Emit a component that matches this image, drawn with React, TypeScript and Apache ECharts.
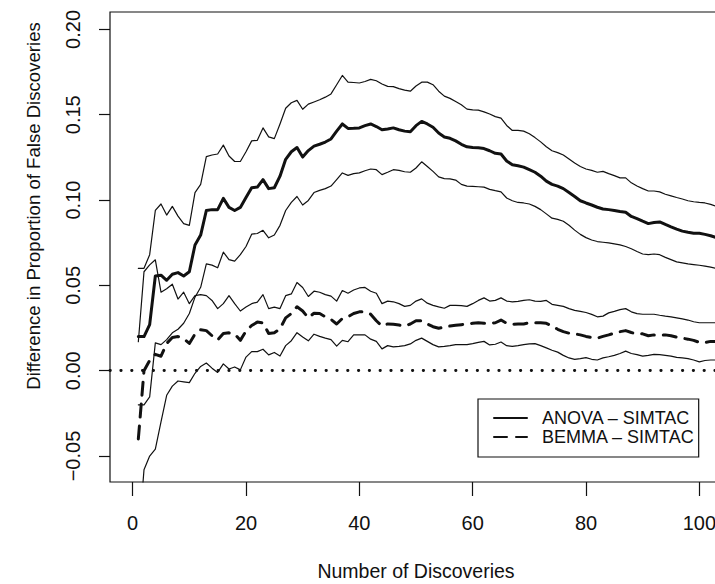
import React, { useEffect, useRef } from "react";
import * as echarts from "echarts";

// Values (x = 1, 2, 3, ... number of discoveries)
const anovaMean = [
  0.020, 0.020, 0.027, 0.0555, 0.056, 0.053, 0.0565, 0.0575, 0.0555, 0.058,
  0.0737, 0.0795, 0.0939, 0.0944, 0.0944, 0.101, 0.0957, 0.0939, 0.0957, 0.1015,
  0.1072, 0.1076, 0.112, 0.1067, 0.1072, 0.114, 0.1239, 0.1283, 0.1308, 0.1252,
  0.129, 0.1316, 0.1327, 0.134, 0.1358, 0.1404, 0.1446, 0.142, 0.1421, 0.1423,
  0.1436, 0.1446, 0.1431, 0.1412, 0.1417, 0.1423, 0.1412, 0.1404, 0.14, 0.1436,
  0.1461, 0.1446, 0.1427, 0.1393, 0.137, 0.1362, 0.1347, 0.1327, 0.1312, 0.1308,
  0.1306, 0.1302, 0.1289, 0.1274, 0.127, 0.1229, 0.1207, 0.1201, 0.1193, 0.1178,
  0.1163, 0.114, 0.1111, 0.1092, 0.1082, 0.1067, 0.1044, 0.1021, 0.0996, 0.0983,
  0.0971, 0.0958, 0.0948, 0.0944, 0.0939, 0.0933, 0.0929, 0.0904, 0.0891, 0.0876,
  0.0862, 0.0868, 0.0872, 0.0857, 0.0843, 0.083, 0.0818, 0.0811, 0.0805, 0.0805,
  0.0799, 0.0791, 0.078,
];

const anovaUpper = [
  0.060, 0.060, 0.068, 0.0939, 0.0977, 0.0912, 0.0963, 0.0906, 0.0862, 0.0852,
  0.1044, 0.1092, 0.1255, 0.1264, 0.127, 0.1322, 0.1258, 0.1226, 0.1226, 0.1283,
  0.1347, 0.135, 0.1423, 0.137, 0.136, 0.1446, 0.1538, 0.157, 0.1584, 0.1532,
  0.1562, 0.1575, 0.1588, 0.1603, 0.1622, 0.1676, 0.173, 0.1691, 0.1689, 0.1686,
  0.1695, 0.1707, 0.1699, 0.168, 0.1666, 0.1665, 0.1653, 0.1644, 0.1638, 0.1668,
  0.1691, 0.1691, 0.1676, 0.1638, 0.1609, 0.1596, 0.1577, 0.1558, 0.1533, 0.1529,
  0.1527, 0.1517, 0.1504, 0.1489, 0.148, 0.1437, 0.1408, 0.1408, 0.1404, 0.1389,
  0.1366, 0.1341, 0.1312, 0.1289, 0.1278, 0.1264, 0.124, 0.1217, 0.1197, 0.1182,
  0.1174, 0.1163, 0.1168, 0.1155, 0.1143, 0.113, 0.113, 0.1101, 0.1082, 0.1067,
  0.1053, 0.1053, 0.1048, 0.1034, 0.1025, 0.1015, 0.1006, 0.0996, 0.099, 0.0986,
  0.0983, 0.0975, 0.0963,
];

const anovaLower = [
  -0.020, -0.020, -0.0153, 0.0163, 0.0153, 0.0182, 0.0222, 0.0243, 0.0278, 0.0335,
  0.0431, 0.0489, 0.0626, 0.0619, 0.0603, 0.0695, 0.0651, 0.0642, 0.068, 0.0728,
  0.08, 0.0804, 0.0823, 0.0779, 0.0795, 0.0852, 0.0939, 0.0986, 0.1021, 0.0971,
  0.0998, 0.1044, 0.1057, 0.1067, 0.1082, 0.112, 0.1159, 0.1145, 0.1155, 0.1159,
  0.1172, 0.1182, 0.1178, 0.1149, 0.1163, 0.1178, 0.1174, 0.1166, 0.1163, 0.1188,
  0.1224, 0.1197, 0.1168, 0.1136, 0.1126, 0.1124, 0.1117, 0.1092, 0.1082, 0.108,
  0.1078, 0.1076, 0.1063, 0.1055, 0.1048, 0.1012, 0.0996, 0.0986, 0.0983, 0.0977,
  0.0963, 0.0944, 0.0919, 0.0894, 0.0887, 0.0876, 0.0852, 0.0824, 0.0799, 0.078,
  0.0766, 0.0757, 0.0753, 0.0749, 0.0743, 0.0737, 0.0728, 0.0715, 0.0699, 0.0684,
  0.068, 0.0684, 0.068, 0.0664, 0.0651, 0.0638, 0.0632, 0.0626, 0.0622, 0.0618,
  0.0613, 0.0607, 0.0599,
];

const bemmaMean = [
  -0.040, 0.0, 0.006, 0.0096, 0.0085, 0.016, 0.0195, 0.020, 0.0188, 0.016,
  0.0215, 0.024, 0.0235, 0.0205, 0.018, 0.0218, 0.0222, 0.0215, 0.0178, 0.0232,
  0.0265, 0.0285, 0.028, 0.0218, 0.0222, 0.0245, 0.031, 0.0335, 0.0375, 0.035,
  0.031, 0.0337, 0.0335, 0.0316, 0.0301, 0.0274, 0.0306, 0.0316, 0.0335, 0.0345,
  0.0345, 0.0331, 0.0293, 0.0262, 0.0274, 0.0272, 0.0268, 0.0262, 0.0274, 0.0293,
  0.0293, 0.0274, 0.0258, 0.0249, 0.0255, 0.0262, 0.0266, 0.027, 0.0274, 0.0278,
  0.0281, 0.0278, 0.0278, 0.0281, 0.0297, 0.0278, 0.0272, 0.0274, 0.0274, 0.0281,
  0.0281, 0.0281, 0.0278, 0.0262, 0.0243, 0.0229, 0.022, 0.0216, 0.021, 0.0201,
  0.0195, 0.0191, 0.0201, 0.021, 0.022, 0.0229, 0.0235, 0.0224, 0.0216, 0.0216,
  0.0205, 0.021, 0.021, 0.021, 0.0205, 0.0197, 0.0191, 0.0185, 0.0178, 0.0166,
  0.0166, 0.0172, 0.0172,
];

const bemmaUpper = [
  0.017, 0.058, 0.062, 0.065, 0.046, 0.048, 0.0507, 0.042, 0.046, 0.0393,
  0.044, 0.0446, 0.044, 0.0412, 0.0364, 0.0393, 0.044, 0.0393, 0.035, 0.0373,
  0.0393, 0.0402, 0.0446, 0.0364, 0.0373, 0.0364, 0.044, 0.045, 0.0517, 0.0488,
  0.0435, 0.0466, 0.046, 0.0446, 0.0437, 0.0408, 0.047, 0.0454, 0.0473, 0.0485,
  0.0488, 0.0466, 0.0454, 0.0393, 0.0408, 0.0404, 0.0393, 0.0377, 0.0383, 0.0408,
  0.0421, 0.0396, 0.0383, 0.0374, 0.0366, 0.0383, 0.0383, 0.0381, 0.0377, 0.0393,
  0.0412, 0.0427, 0.0408, 0.0412, 0.0427, 0.0408, 0.0404, 0.0406, 0.0412, 0.0416,
  0.0408, 0.0406, 0.0412, 0.0389, 0.0383, 0.0377, 0.0364, 0.0354, 0.0348, 0.0341,
  0.033, 0.0316, 0.032, 0.0339, 0.0348, 0.0358, 0.0364, 0.0345, 0.0335, 0.0331,
  0.0331, 0.0331, 0.0325, 0.032, 0.0316, 0.031, 0.0304, 0.0297, 0.0287, 0.0281,
  0.0281, 0.0281, 0.0281,
];

const bemmaLower = [
  -0.100, -0.058, -0.050, -0.046, -0.030, -0.0144, -0.009, -0.006, -0.0065, -0.007,
  -0.0015, 0.0025, 0.0045, 0.0015, -0.001, 0.004, 0.001, 0.0022, 0.0005, 0.008,
  0.0112, 0.0112, 0.0126, 0.0093, 0.0107, 0.0086, 0.0147, 0.0176, 0.0223, 0.0198,
  0.0175, 0.0214, 0.0201, 0.0191, 0.0182, 0.0144, 0.0178, 0.017, 0.021, 0.021,
  0.021, 0.0185, 0.0172, 0.0128, 0.0147, 0.014, 0.0143, 0.0147, 0.0157, 0.0178,
  0.0191, 0.0172, 0.0153, 0.014, 0.0143, 0.0147, 0.0153, 0.0153, 0.0153, 0.0159,
  0.0166, 0.0172, 0.0151, 0.0155, 0.0168, 0.0147, 0.0143, 0.0147, 0.0153, 0.0157,
  0.0159, 0.0147, 0.0134, 0.012, 0.0109, 0.009, 0.0075, 0.0067, 0.0071, 0.0077,
  0.0067, 0.0063, 0.0075, 0.0082, 0.009, 0.0101, 0.0115, 0.0101, 0.0094, 0.0086,
  0.009, 0.0096, 0.0094, 0.009, 0.0086, 0.0078, 0.0075, 0.0071, 0.0063, 0.0052,
  0.006, 0.0063, 0.0063,
];

const xTicks = [0, 20, 40, 60, 80, 100];
const yTicks = [-0.05, 0, 0.05, 0.1, 0.15, 0.2];
const legendNames = ["ANOVA – SIMTAC", "BEMMA – SIMTAC"];
const xTitle = "Number of Discoveries";
const yTitle = "Difference in Proportion of False Discoveries";

const pairs = (arr: number[]) => arr.map((v, i) => [i + 1, v]);

export default function App() {
  const ref = useRef<HTMLDivElement>(null);

  useEffect(() => {
    if (!ref.current) return;
    const chart = echarts.init(ref.current, null, { renderer: "svg" });
    const font = "'Liberation Sans', Arial, Helvetica, sans-serif";
    const ink = "#111";
    const thin = { color: ink, width: 1.2, cap: "round", join: "round" };
    const thick = { color: ink, width: 3, cap: "round", join: "round" };

    chart.setOption({
      animation: false,
      backgroundColor: "#fff",
      textStyle: { fontFamily: font, color: ink },
      grid: {
        left: 110,
        top: 12,
        right: -7,
        bottom: 102,
        show: true,
        borderColor: ink,
        borderWidth: 1.2,
        backgroundColor: "transparent",
        containLabel: false,
        outerBoundsMode: "none",
      },
      graphic: [
        {
          type: "text",
          x: 33,
          y: 206,
          rotation: Math.PI / 2,
          silent: true,
          style: {
            text: yTitle,
            fill: ink,
            font: `18.6px ${font}`,
            align: "center",
            verticalAlign: "middle",
          },
        },
      ],
      xAxis: {
        type: "value",
        min: -4,
        max: 104,
        name: xTitle,
        nameLocation: "middle",
        nameGap: 79,
        nameTextStyle: { fontSize: 19.5, color: ink, fontFamily: font },
        axisLine: { show: false, onZero: false },
        splitLine: { show: false },
        axisTick: {
          show: true,
          length: 14,
          customValues: xTicks,
          lineStyle: { color: ink, width: 1.2 },
        },
        axisLabel: {
          customValues: xTicks,
          fontSize: 20,
          color: ink,
          margin: 31,
          fontFamily: font,
          hideOverlap: false,
        },
      },
      yAxis: {
        type: "value",
        min: -0.0652,
        max: 0.2102,
        axisLine: { show: false, onZero: false },
        splitLine: { show: false },
        axisTick: {
          show: true,
          length: 11,
          customValues: yTicks,
          lineStyle: { color: ink, width: 1.2 },
        },
        axisLabel: {
          customValues: yTicks,
          rotate: 90,
          fontSize: 20,
          color: ink,
          margin: 27,
          fontFamily: font,
          formatter: (v: number) =>
            (v < 0 ? "\u2212" : "") + Math.abs(v).toFixed(2),
        },
      },
      legend: {
        show: true,
        data: legendNames,
        orient: "vertical",
        left: 478,
        top: 399,
        itemWidth: 33,
        itemHeight: 20,
        itemGap: 1,
        padding: [10, 4, 11, 15],
        borderColor: ink,
        borderWidth: 1.2,
        backgroundColor: "#fff",
        selectedMode: false,
        itemStyle: { color: "rgba(0,0,0,0)", borderWidth: 0, opacity: 0 },
        textStyle: {
          fontSize: 18,
          lineHeight: 18,
          color: ink,
          fontFamily: font,
          padding: [0, 0, 0, 10],
        },
      },
      series: [
        {
          name: "ANOVA upper",
          type: "line",
          data: pairs(anovaUpper),
          symbol: "none",
          lineStyle: thin,
          z: 2,
        },
        {
          name: "ANOVA lower",
          type: "line",
          data: pairs(anovaLower),
          symbol: "none",
          lineStyle: thin,
          z: 2,
        },
        {
          name: "BEMMA upper",
          type: "line",
          data: pairs(bemmaUpper),
          symbol: "none",
          lineStyle: thin,
          z: 2,
        },
        {
          name: "BEMMA lower",
          type: "line",
          data: pairs(bemmaLower),
          symbol: "none",
          lineStyle: thin,
          z: 2,
        },
        {
          name: legendNames[0],
          type: "line",
          data: pairs(anovaMean),
          symbol: "none",
          lineStyle: thick,
          itemStyle: { color: ink },
          z: 3,
        },
        {
          name: legendNames[1],
          type: "line",
          data: pairs(bemmaMean),
          symbol: "none",
          lineStyle: { ...thick, type: [13, 9] },
          itemStyle: { color: ink },
          z: 3,
          markLine: {
            silent: true,
            symbol: "none",
            label: { show: false },
            lineStyle: {
              color: ink,
              width: 2.8,
              type: [0.4, 10.4],
              cap: "round",
            },
            data: [{ yAxis: 0 }],
          },
        },
      ],
    });

    return () => chart.dispose();
  }, []);

  return (
    <div
      ref={ref}
      style={{ position: "fixed", left: 0, top: 0, width: 715, height: 584 }}
    />
  );
}
